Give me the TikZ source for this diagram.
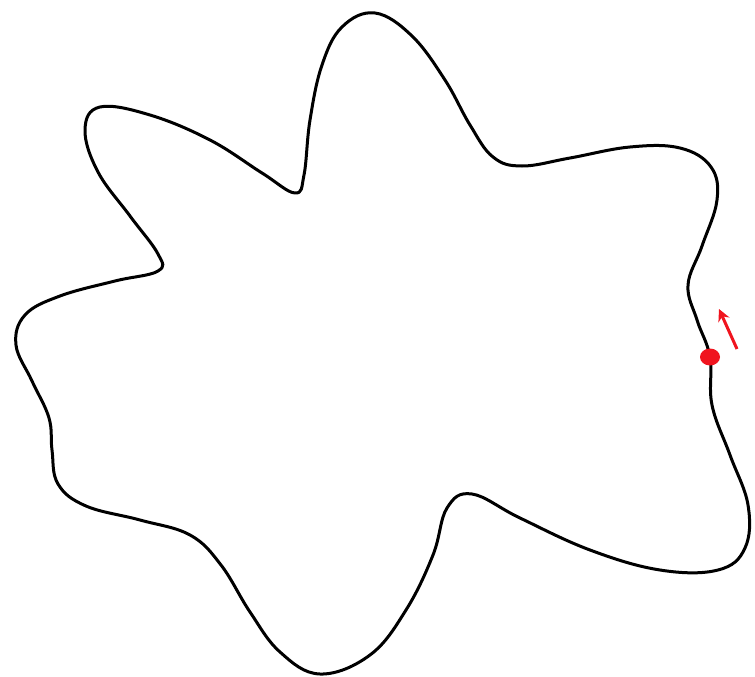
\documentclass[tikz,border=0pt]{standalone}
\usetikzlibrary{arrows.meta}
\definecolor{dotred}{RGB}{240,20,30}
\tikzset{
  blob/.style={line width=3pt, black, line join=round},
  marker/.style={fill=dotred, draw=none},
  dirarrow/.style={draw=dotred, line width=3pt, -{Stealth[length=12pt,width=12pt]}}
}
\begin{document}
\begin{tikzpicture}[x=1pt,y=-1pt]
\useasboundingbox (0,0) rectangle (755,677);
\draw[blob] plot[smooth cycle, tension=0.65] coordinates {
(375,13) (412,36) (445,80) (470,125) (493,157) (522,166) (570,158) (630,147)
(680,148) (711,167) (717,200) (702,246) (688,285) (697,320) (710,357)
(712,405) (730,455) (748,505) (745,548) (718,570) (660,570) (590,550)
(520,518) (472,494) (447,508) (433,555) (406,610) (370,655) (320,674)
(280,652) (250,612) (221,565) (190,535) (140,520) (86,506) (58,484)
(52,450) (49,418) (32,381) (16,345) (25,315) (60,296) (115,281) (158,271)
(158,254) (130,216) (98,172) (85,130) (100,107) (150,115) (210,140)
(262,173) (295,193) (304,175) (310,120) (322,65) (342,27)};
\coordinate (tail) at (737,349);
\coordinate (head) at (719,309);
\fill[marker] (710,357) ellipse [x radius=10, y radius=8.5];
\draw[dirarrow] (tail) -- (head);
\end{tikzpicture}
\end{document}
